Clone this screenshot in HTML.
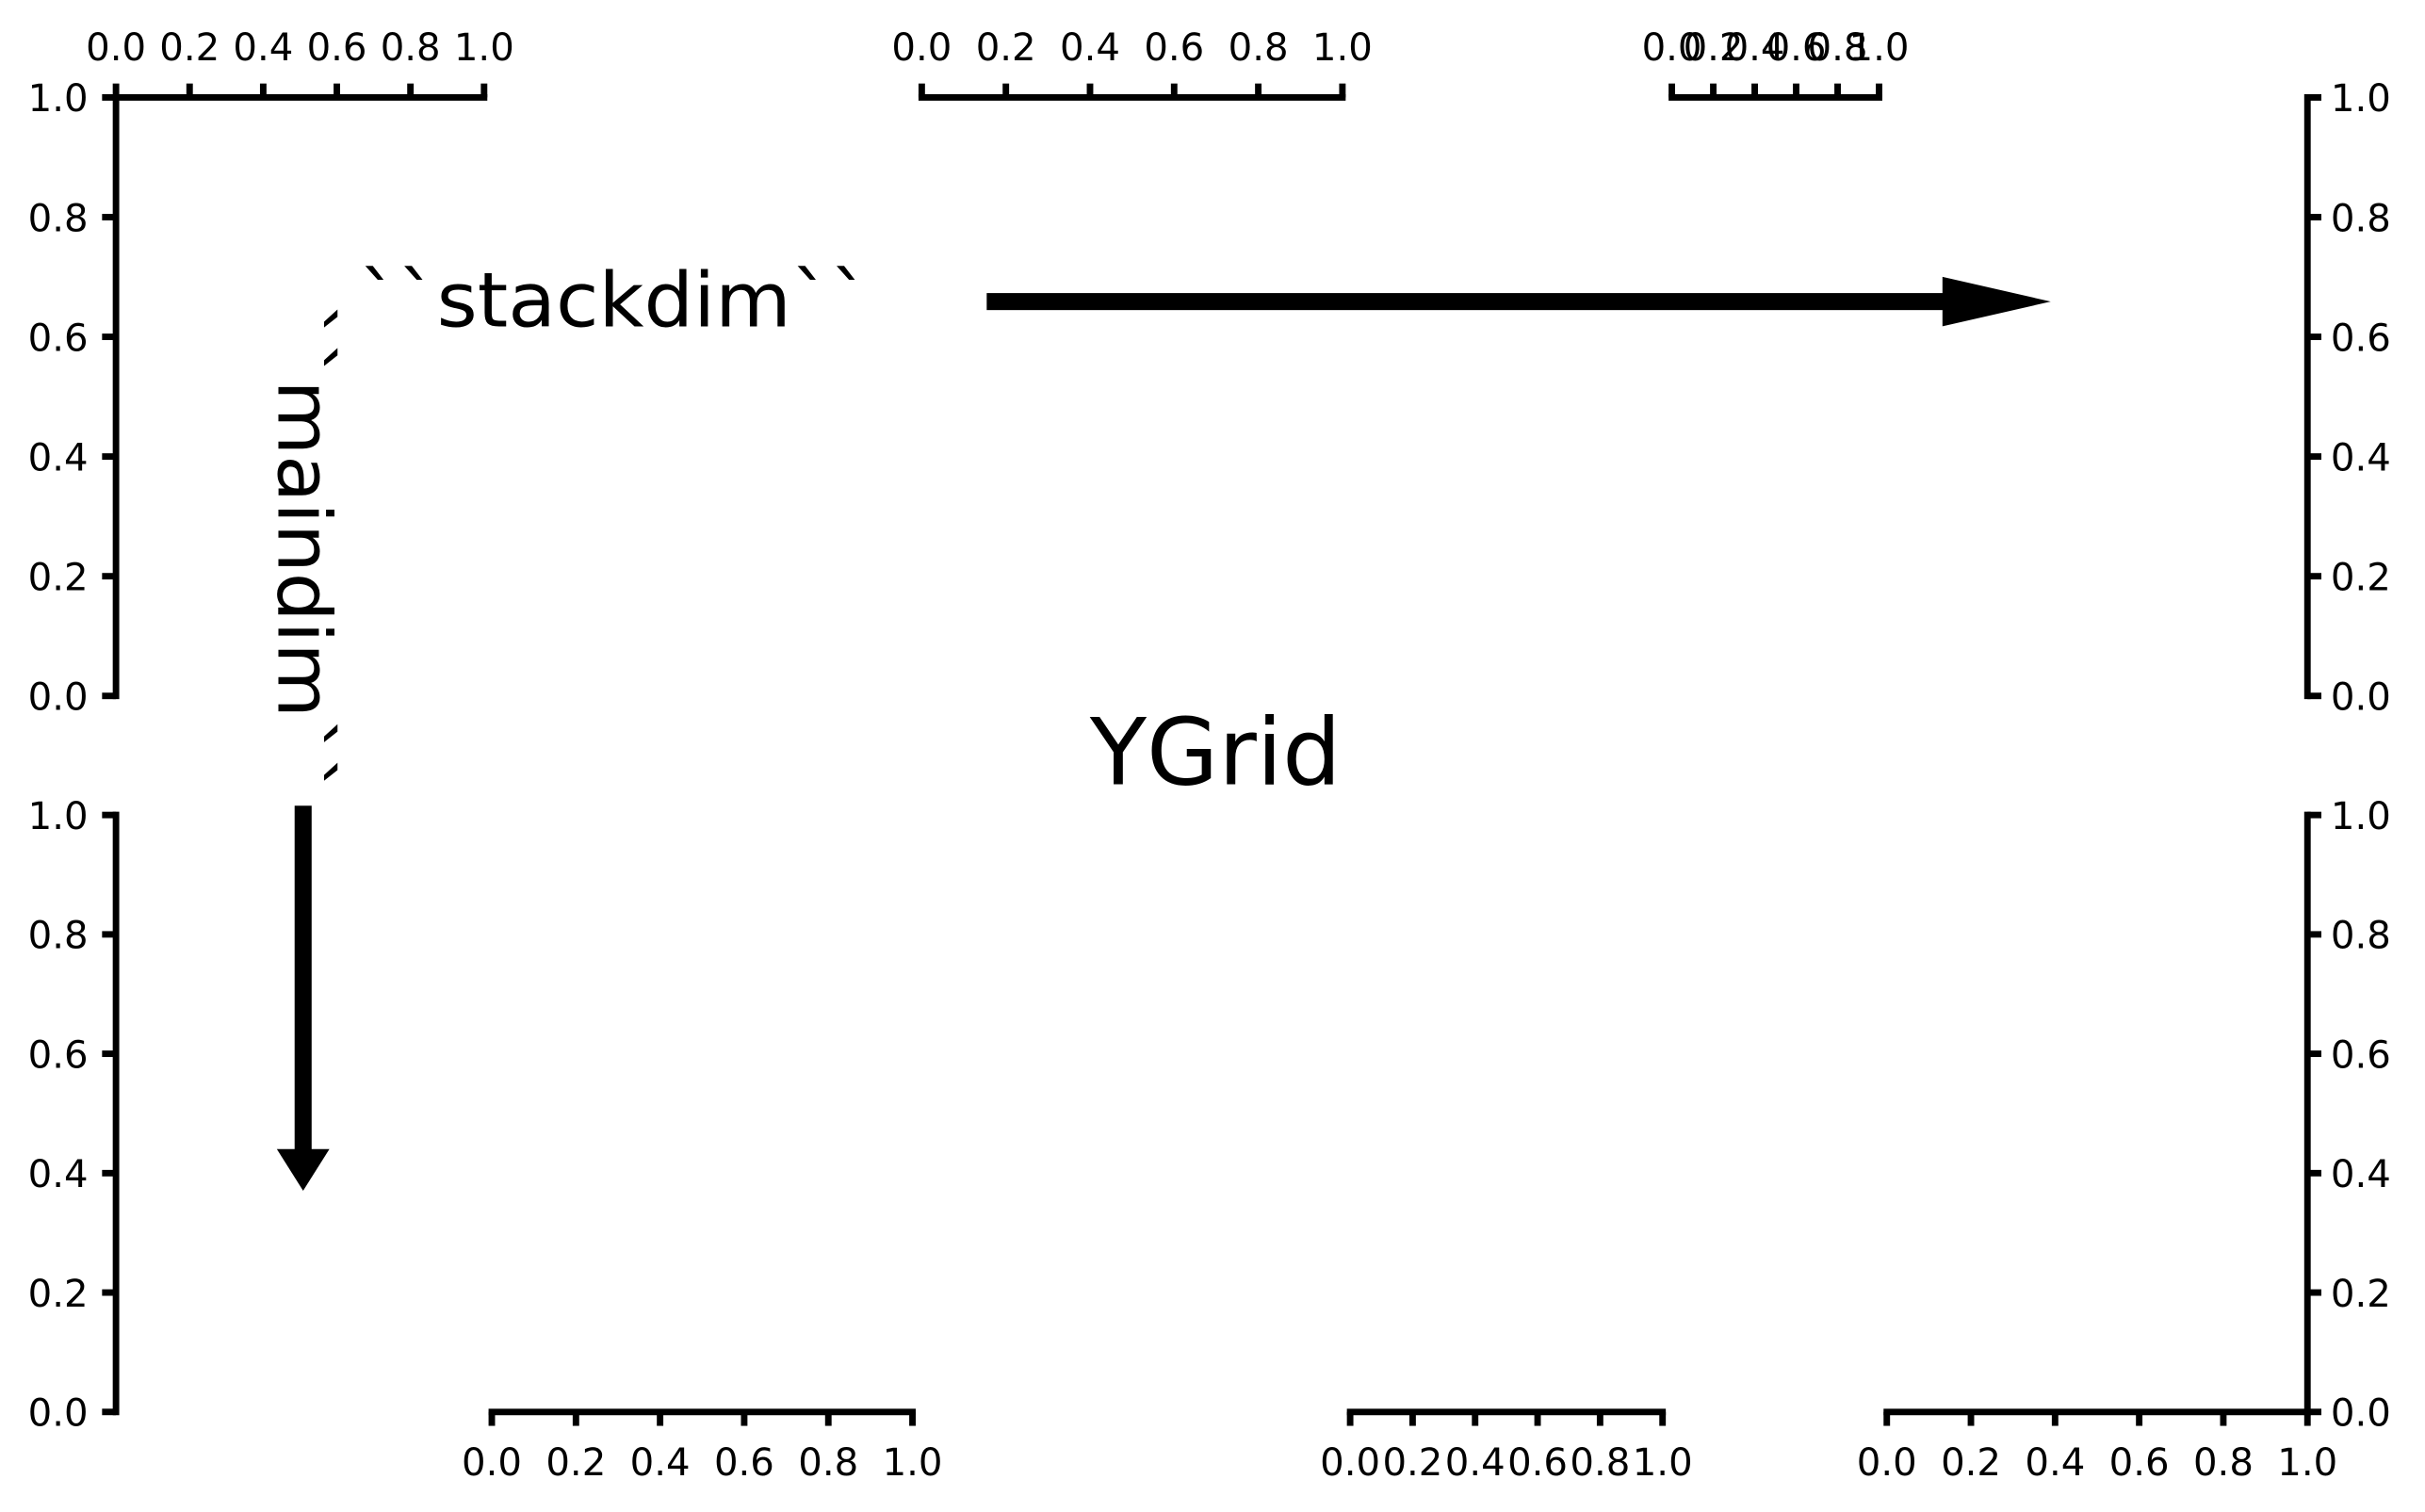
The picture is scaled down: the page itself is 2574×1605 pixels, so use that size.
<!DOCTYPE html>
<html><head><meta charset="utf-8"><style>
html,body{margin:0;padding:0;background:#fff;}
svg{display:block;}
text{font-family:"DejaVu Sans","Liberation Sans",sans-serif;fill:#000;}
</style></head><body>
<svg id="chart" xmlns="http://www.w3.org/2000/svg" width="2574" height="1605" viewBox="0 0 1568 977.7">
<rect x="0" y="0" width="1568" height="977.7" fill="#fff"/>
<g id="axes"></g>
<text x="232" y="211" font-size="49" textLength="330" lengthAdjust="spacingAndGlyphs">``stackdim``</text>
<text transform="translate(180,196) rotate(90)" font-size="48" textLength="318" lengthAdjust="spacingAndGlyphs">``maindim``</text>
<text x="786" y="507" font-size="60" text-anchor="middle">YGrid</text>
<g>
<rect x="638" y="189.5" width="620" height="11" fill="#000"/>
<polygon points="1256,179 1326,195 1256,211" fill="#000"/>
</g>
<g>
<rect x="190.5" y="521" width="11" height="224" fill="#000"/>
<polygon points="179,743 196,770 213,743" fill="#000"/>
</g>
</svg>
<script>
const tickValues = [0, 0.2, 0.4, 0.6, 0.8, 1.0];
const tickLabels = ["0.0", "0.2", "0.4", "0.6", "0.8", "1.0"];
const topAxisNames = ["top-x-axis-1", "top-x-axis-2", "top-x-axis-3"];
const bottomAxisNames = ["bottom-x-axis-1", "bottom-x-axis-2", "bottom-x-axis-3"];

const NS = "http://www.w3.org/2000/svg";
const root = document.getElementById("axes");
const SW = 4.2, TL = 9, FS = 24.5;
function mk(tag, attrs, parent){ const e=document.createElementNS(NS,tag); for(const k in attrs) e.setAttribute(k,attrs[k]); parent.appendChild(e); return e; }

function hAxis(name, x0, x1, y, side){
  const g = mk("g", {}, root);
  
  
  const sx = v => x0 + v*(x1-x0);
  const line = mk("line", {x1:x0-SW/2, x2:x1+SW/2, y1:y, y2:y, stroke:"#000","stroke-width":SW}, g);
  
  
  const dir = side==="top" ? -1 : 1;
  tickValues.forEach((v,i)=>{
    const t = mk("line", {x1:sx(v), x2:sx(v), y1:y, y2:y+dir*TL, stroke:"#000","stroke-width":SW}, g);
    
    
    const lab = mk("text", {x:sx(v), y: side==="top" ? y-24 : y+41, "font-size":FS, "text-anchor":"middle"}, g);
    lab.textContent = tickLabels[i];
    
    
  });
}
function vAxis(name, x, yb, yt, side){
  const g = mk("g", {}, root);
  
  
  const sy = v => yb + v*(yt-yb);
  const line = mk("line", {x1:x, x2:x, y1:yb+SW/2, y2:yt-SW/2, stroke:"#000","stroke-width":SW}, g);
  
  
  const dir = side==="left" ? -1 : 1;
  tickValues.forEach((v,i)=>{
    const t = mk("line", {x1:x, x2:x+dir*TL, y1:sy(v), y2:sy(v), stroke:"#000","stroke-width":SW}, g);
    
    
    const lab = mk("text", {x: side==="left" ? x-18 : x+15, y: sy(v)+9, "font-size":FS, "text-anchor": side==="left" ? "end" : "start"}, g);
    lab.textContent = tickLabels[i];
    
    
  });
}
vAxis("top-left-y-axis", 75, 450, 63, "left");
vAxis("bottom-left-y-axis", 75, 913, 527, "left");
vAxis("top-right-y-axis", 1492, 450, 63, "right");
vAxis("bottom-right-y-axis", 1492, 913, 527, "right");
hAxis(topAxisNames[0], 75, 313, 63, "top");
hAxis(topAxisNames[1], 596, 868, 63, "top");
hAxis(topAxisNames[2], 1081, 1215, 63, "top");
hAxis(bottomAxisNames[0], 318, 590, 913, "bottom");
hAxis(bottomAxisNames[1], 873, 1075, 913, "bottom");
hAxis(bottomAxisNames[2], 1220, 1492, 913, "bottom");
</script>
</body></html>
